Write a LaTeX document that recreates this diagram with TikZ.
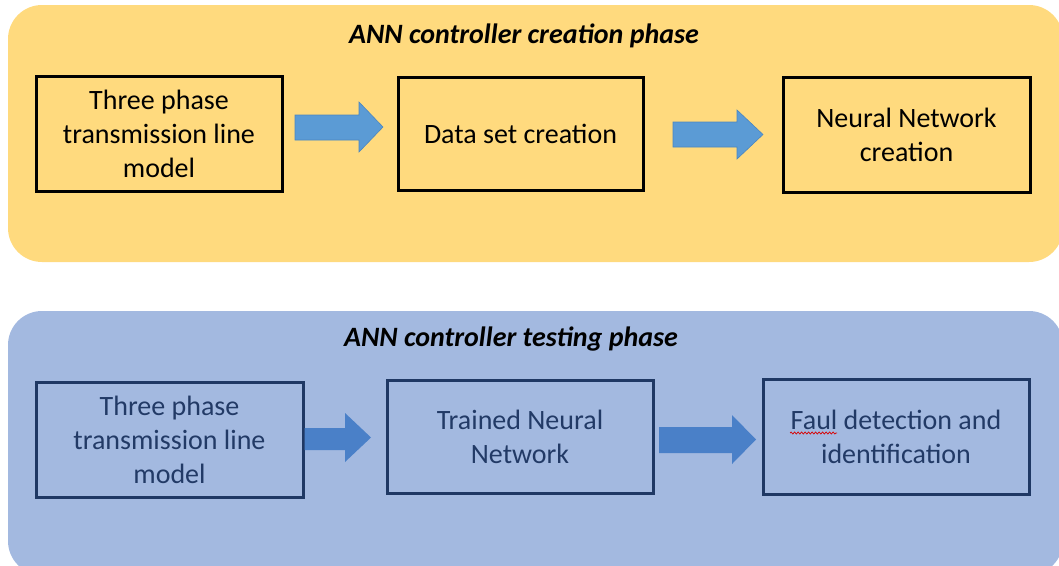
\documentclass[tikz,border=0pt]{standalone}
\usepackage{fontspec}
\setmainfont{Carlito}
\usetikzlibrary{decorations.pathmorphing}
\definecolor{ypanel}{HTML}{FFDA7E}
\definecolor{bpanel}{HTML}{A3B9E0}
\definecolor{navy}{HTML}{1F3864}
\definecolor{navytext}{HTML}{223A66}
\definecolor{arrowtop}{HTML}{5B9BD5}
\definecolor{arrowtopedge}{HTML}{4A86C0}
\definecolor{arrowbot}{HTML}{4A80C8}
\tikzset{
  panel/.style={rounded corners=34pt, draw=none},
  phasetitle/.style={font=\fontsize{28}{32}\selectfont\bfseries\itshape, text=black, inner sep=0pt},
  topbox/.style={draw=black, line width=3pt, fill=none, align=center, inner sep=0pt,
     font=\fontsize{28}{34}\selectfont, text=black},
  botbox/.style={draw=navy, line width=3pt, fill=none, align=center, inner sep=0pt,
     font=\fontsize{28}{34}\selectfont, text=navytext},
  toparrow/.style={fill=arrowtop, draw=arrowtopedge, line width=0.6pt},
  botarrow/.style={fill=arrowbot, draw=none},
}
\begin{document}
\begin{tikzpicture}[x=1pt,y=-1pt]
\useasboundingbox (0,0) rectangle (1059,565);
\clip (0,0) rectangle (1059,565);
% panels
\fill[panel, ypanel] (8,5) rectangle (1063,262);
\fill[panel, bpanel] (8,311) rectangle (1063,575);
% titles
\node[phasetitle] (t1) at (524,36) {ANN controller creation phase};
\node[phasetitle] (t2) at (511,339) {ANN controller testing phase};
% top boxes
\node[topbox, minimum width=246pt, minimum height=115pt] (a1) at (159,134)
  {Three phase\\transmission line\\model};
\node[topbox, minimum width=245pt, minimum height=113pt] (a2) at (520.5,133.5)
  {Data set creation};
\node[topbox, minimum width=247pt, minimum height=115pt] (a3) at (906.5,134.5)
  {Neural Network\\creation};
% bottom boxes
\node[botbox, minimum width=267pt, minimum height=115pt] (b1) at (169.5,439.5)
  {Three phase\\transmission line\\model};
\node[botbox, minimum width=266pt, minimum height=113pt] (b2) at (520,436.5)
  {Trained Neural\\Network};
\node[botbox, minimum width=266pt, minimum height=115pt] (b3) at (896,436.5)
  {Faul detection and\\identification};
% top block arrows
\filldraw[toparrow] (295,115) -- (359,115) -- (359,102) -- (383,127) -- (359,152)
  -- (359,140) -- (295,140) -- cycle;
\filldraw[toparrow] (673,122) -- (737,122) -- (737,110) -- (763,134.5) -- (737,159)
  -- (737,147) -- (673,147) -- cycle;
% bottom block arrows
\fill[botarrow] (b1.east |- 0,428) -- (345,428) -- (345,413) -- (371,437.5)
  -- (345,462) -- (345,450) -- (b1.east |- 0,450) -- cycle;
\fill[botarrow] (659,427) -- (732,427) -- (732,415) -- (756,439.5) -- (732,464)
  -- (732,453) -- (659,453) -- cycle;
% spell-check underline under "Faul"
\draw[red!85!black, line width=0.7pt, decorate,
  decoration={snake, amplitude=1pt, segment length=3.5pt}] (790,433) -- (837,433);
\end{tikzpicture}
\end{document}
